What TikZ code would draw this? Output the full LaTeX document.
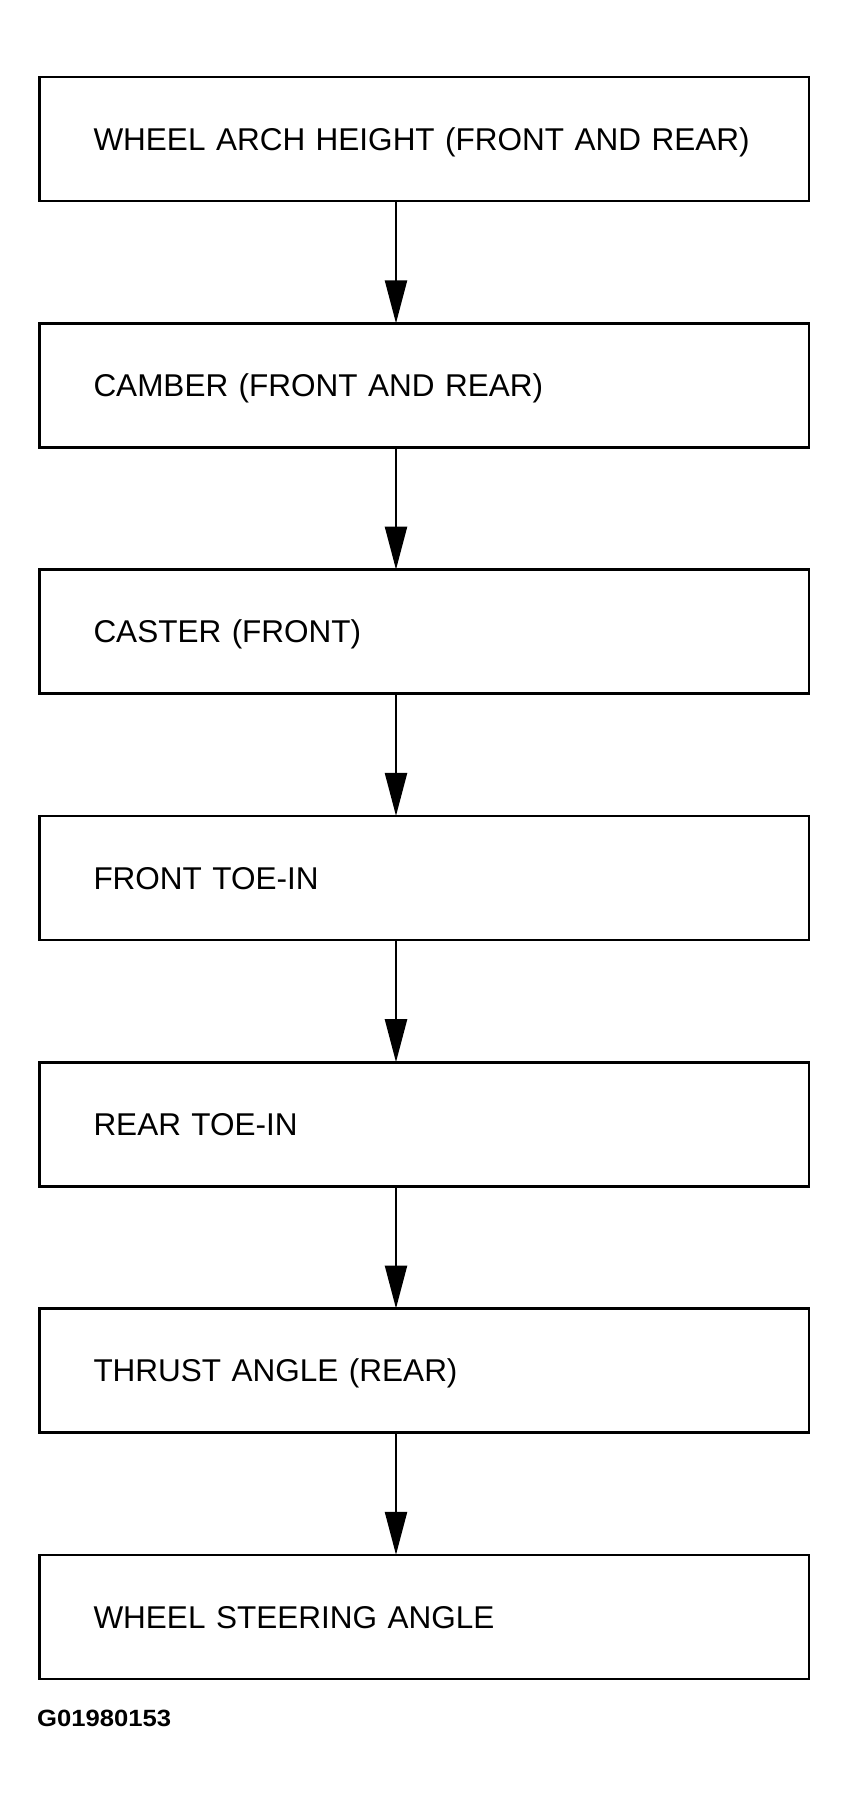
\documentclass[tikz,border=0pt]{standalone}
\usepackage{fontspec}
\setmainfont{Liberation Sans}[WordSpace=1.9]
\usetikzlibrary{arrows.meta}
\begin{document}
\begin{tikzpicture}[x=1pt,y=-1pt,
  stepbox/.style={draw, line width=2.6pt, outer sep=0pt, anchor=north west,
    minimum width=769.5pt, minimum height=124pt, inner xsep=4pt, inner ysep=0pt,
    text width=761.5pt, align=left, text height=22.5pt, text depth=0pt,
    font=\fontsize{31.5}{37}\selectfont},
  flow/.style={line width=2.4pt, -{Triangle[length=43pt,width=22pt]}},
  codelabel/.style={anchor=base west, inner sep=0pt, font=\bfseries\fontsize{23.5}{28}\selectfont}]
\useasboundingbox (0,0) rectangle (850,1801);
\fill[white] (0,0) rectangle (850,1801);
\node[stepbox] (b1) at (39.5,77.0)   {\hspace*{50pt}WHEEL ARCH HEIGHT (FRONT AND REAR)};
\node[stepbox] (b2) at (39.5,323.3)  {\hspace*{50pt}CAMBER (FRONT AND REAR)};
\node[stepbox] (b3) at (39.5,569.6)  {\hspace*{50pt}CASTER (FRONT)};
\node[stepbox] (b4) at (39.5,815.9)  {\hspace*{50pt}FRONT TOE-IN};
\node[stepbox] (b5) at (39.5,1062.2) {\hspace*{50pt}REAR TOE-IN};
\node[stepbox] (b6) at (39.5,1308.5) {\hspace*{50pt}THRUST ANGLE (REAR)};
\node[stepbox] (b7) at (39.5,1554.8) {\hspace*{50pt}WHEEL STEERING ANGLE};
\coordinate (ax) at (396,0);
\draw[flow] (b1.south -| ax) -- (b2.north -| ax);
\draw[flow] (b2.south -| ax) -- (b3.north -| ax);
\draw[flow] (b3.south -| ax) -- (b4.north -| ax);
\draw[flow] (b4.south -| ax) -- (b5.north -| ax);
\draw[flow] (b5.south -| ax) -- (b6.north -| ax);
\draw[flow] (b6.south -| ax) -- (b7.north -| ax);
\node[codelabel] (code) at (37,1726) {\scalebox{1.09}[1]{G01980153}};
\end{tikzpicture}
\end{document}
